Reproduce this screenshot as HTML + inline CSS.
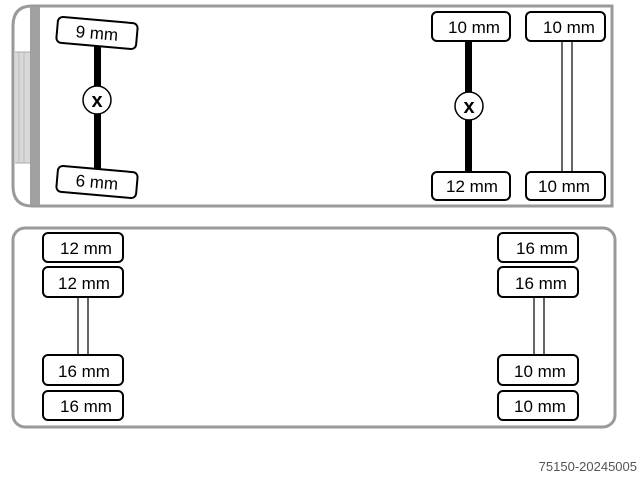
<!DOCTYPE html>
<html><head><style>
html,body{margin:0;padding:0;background:#fff;width:640px;height:480px;overflow:hidden}
text{font-family:"Liberation Sans",sans-serif;font-size:17px;fill:#000}
</style></head><body>
<svg width="640" height="480" viewBox="0 0 640 480" xmlns="http://www.w3.org/2000/svg">
<path d="M32 6 H612 V206 H32 Q13 206 13 186 V26 Q13 6 32 6 Z" fill="#fff" stroke="#9a9a9a" stroke-width="3"/>
<rect x="30" y="7" width="10" height="198" fill="#a0a0a0"/>
<rect x="15" y="52" width="15" height="111" fill="#d8d8d8"/>
<line x1="19" y1="52" x2="19" y2="163" stroke="#bbb"/>
<line x1="24" y1="52" x2="24" y2="163" stroke="#bbb"/>
<line x1="15" y1="52" x2="30" y2="52" stroke="#aaa"/>
<line x1="15" y1="163" x2="30" y2="163" stroke="#aaa"/>
<rect x="94" y="45" width="7" height="125" fill="#000"/>
<circle cx="97" cy="100" r="14" fill="#fff" stroke="#000" stroke-width="1.5"/>
<text x="97" y="107" text-anchor="middle" style="font-size:20px;font-weight:bold">x</text>
<g transform="rotate(5 97 33)"><rect x="57" y="20" width="80" height="26" rx="5" fill="#fff" stroke="#000" stroke-width="2"/><text x="97" y="39" text-anchor="middle">9 mm</text></g>
<g transform="rotate(5 97 182)"><rect x="57" y="169" width="80" height="26" rx="5" fill="#fff" stroke="#000" stroke-width="2"/><text x="97" y="188" text-anchor="middle">6 mm</text></g>
<rect x="465" y="40" width="7" height="133" fill="#000"/>
<circle cx="469" cy="106" r="14" fill="#fff" stroke="#000" stroke-width="1.5"/>
<text x="469" y="113" text-anchor="middle" style="font-size:20px;font-weight:bold">x</text>
<rect x="562" y="40" width="10" height="133" fill="#fff" stroke="#000" stroke-width="1.2"/>
<g fill="#fff" stroke="#000" stroke-width="2">
<rect x="432" y="12" width="78" height="29" rx="5"/><rect x="432" y="172" width="78" height="28" rx="5"/>
<rect x="526" y="12" width="79" height="29" rx="5"/><rect x="526" y="172" width="79" height="28" rx="5"/>
</g>
<text x="474" y="33" text-anchor="middle">10 mm</text><text x="472" y="192" text-anchor="middle">12 mm</text>
<text x="569" y="33" text-anchor="middle">10 mm</text><text x="564" y="192" text-anchor="middle">10 mm</text>
<rect x="13" y="228" width="602" height="199" rx="12" fill="#fff" stroke="#9a9a9a" stroke-width="3"/>
<rect x="78" y="296" width="10" height="60" fill="#fff" stroke="#000" stroke-width="1.2"/>
<rect x="534" y="296" width="10" height="60" fill="#fff" stroke="#000" stroke-width="1.2"/>
<g fill="#fff" stroke="#000" stroke-width="2">
<rect x="43" y="233" width="80" height="29" rx="5"/><rect x="43" y="267" width="80" height="30" rx="5"/>
<rect x="43" y="355" width="80" height="30" rx="5"/><rect x="43" y="391" width="80" height="29" rx="5"/>
<rect x="498" y="233" width="80" height="29" rx="5"/><rect x="498" y="267" width="80" height="30" rx="5"/>
<rect x="498" y="355" width="80" height="30" rx="5"/><rect x="498" y="391" width="80" height="29" rx="5"/>
</g>
<text x="86" y="254" text-anchor="middle">12 mm</text><text x="84" y="289" text-anchor="middle">12 mm</text>
<text x="84" y="377" text-anchor="middle">16 mm</text><text x="86" y="412" text-anchor="middle">16 mm</text>
<text x="542" y="254" text-anchor="middle">16 mm</text><text x="541" y="289" text-anchor="middle">16 mm</text>
<text x="540" y="377" text-anchor="middle">10 mm</text><text x="540" y="412" text-anchor="middle">10 mm</text>
<text x="637" y="471" text-anchor="end" style="font-size:13px;fill:#555">75150-20245005</text>
</svg>
</body></html>
